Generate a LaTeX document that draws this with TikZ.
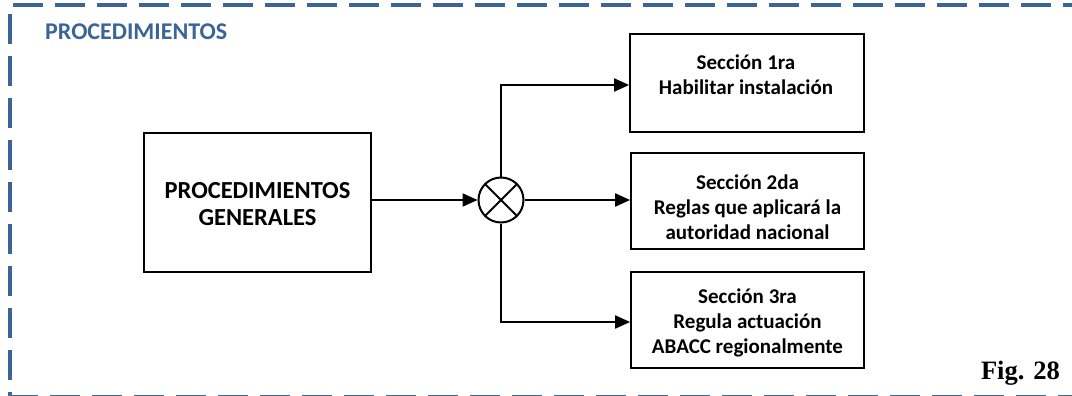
\documentclass[tikz,border=0pt]{standalone}
\usepackage{fontspec}
\setmainfont{Carlito}
\newfontfamily\figfont{Liberation Serif}
\usetikzlibrary{arrows.meta,calc}
\definecolor{frameblue}{RGB}{59,100,152}
\begin{document}
\begin{tikzpicture}[x=1pt,y=-1pt,
  box/.style={draw,line width=1.8pt,inner sep=0pt},
  bigtext/.style={font=\fontsize{24.5}{27}\selectfont\bfseries,align=center,inner sep=0pt},
  smalltext/.style={font=\fontsize{21}{25}\selectfont\bfseries,align=center,inner sep=0pt},
  conn/.style={line width=2pt},
  arrowconn/.style={conn,-{Triangle[length=15pt,width=13pt]}},
  frame/.style={draw=frameblue,line width=3.5pt,dash pattern=on 30pt off 12pt}]
\useasboundingbox (0,0) rectangle (1072,396);

% dashed frame (top, left, bottom)
\coordinate (ftl) at (13,5);
\coordinate (ftr) at (1090,5);
\coordinate (flt) at (10,14);
\coordinate (flb) at (10,410);
\coordinate (fbl) at (8,397);
\coordinate (fbr) at (1090,397);
\draw[frame] (ftl) -- (ftr);
\draw[frame] (flt) -- (flb);
\draw[frame] (fbl) -- (fbr);

% heading and figure number
\node[anchor=west,inner sep=0pt,text=frameblue,font=\fontsize{24}{28}\selectfont\bfseries] (head) at (45,32) {PROCEDIMIENTOS};
\node[anchor=east,inner sep=0pt,font=\figfont\fontsize{26.5}{30}\selectfont\bfseries] (fig) at (1060,373) {Fig. 28};

% main block
\node[box,minimum width=227pt,minimum height=139pt] (pg) at (257.5,202.5) {};
\node[bigtext] (pgtext) at (257.5,204) {PROCEDIMIENTOS\\GENERALES};

% summing junction
\node[draw,circle,line width=2pt,minimum size=45pt,inner sep=0pt] (sum) at (501,200) {};
\draw[conn] (sum.45) -- (sum.225);
\draw[conn] (sum.135) -- (sum.315);

% section blocks
\node[box,minimum width=234pt,minimum height=98pt] (b1) at (747,83) {};
\node[smalltext] (t1) at (746,75) {Sección 1ra\\Habilitar instalación};
\node[box,minimum width=233pt,minimum height=96pt] (b2) at (747.5,201) {};
\node[smalltext] (t2) at (747.5,207) {Sección 2da\\Reglas que aplicará la\\autoridad nacional};
\node[box,minimum width=233pt,minimum height=96pt] (b3) at (747.5,320) {};
\node[smalltext] (t3) at (747.5,323) {Sección 3ra\\Regula actuación\\ABACC regionalmente};

% connectors
\draw[arrowconn] (pg.east |- sum.west) -- (sum.west);
\draw[arrowconn] (sum.east) -- (sum.east -| b2.west);
\draw[arrowconn] (sum.north) |- ($(b1.west)+(0,2)$);
\draw[arrowconn] (sum.south) |- ($(b3.west)+(0,2)$);
\end{tikzpicture}
\end{document}
